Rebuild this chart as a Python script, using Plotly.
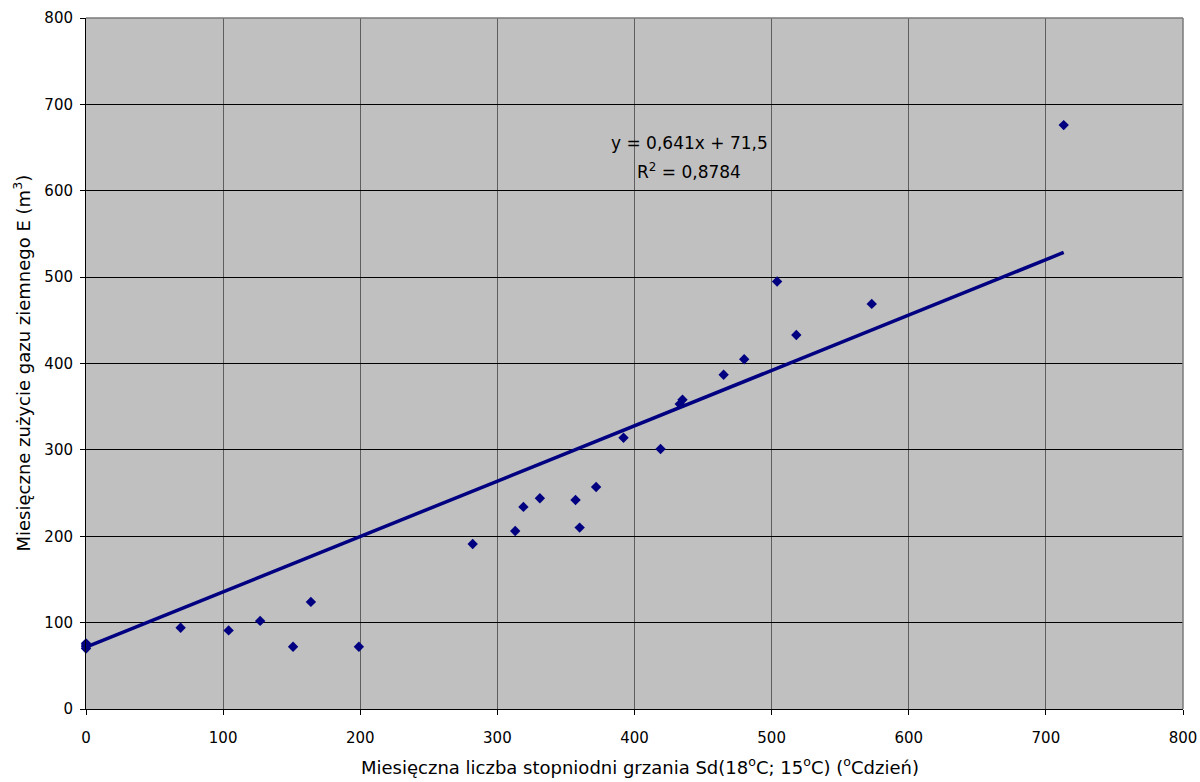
import plotly.graph_objects as go

# Monthly heating degree-days Sd(18°C; 15°C) and monthly natural gas use E (m3)
degree_days = [0, 0, 0, 0, 69, 104, 127, 151, 164, 199,
               282, 313, 319, 331, 357, 360, 372, 392, 419, 433,
               435, 465, 480, 504, 518, 573, 713]
gas_use = [70, 72, 74, 76, 94, 91, 102, 72, 124, 72,
           191, 206, 234, 244, 242, 210, 257, 314, 301, 353,
           358, 387, 405, 495, 433, 469, 676]

# Linear trend line as stated in the label
slope = 0.641
intercept = 71.5
r_squared = 0.8784

x_ticks = [0, 100, 200, 300, 400, 500, 600, 700, 800]
y_ticks = [0, 100, 200, 300, 400, 500, 600, 700, 800]

x_title = "Miesięczna liczba stopniodni grzania Sd(18<sup>o</sup>C; 15<sup>o</sup>C) (<sup>o</sup>Cdzień)"
y_title = "Miesięczne zużycie gazu ziemnego E (m<sup>3</sup>)"

navy = "#000080"
font_family = "DejaVu Sans, Arial, sans-serif"

W, H = 1200, 782
M = dict(l=86, r=17, t=18, b=73)
plot_w = W - M["l"] - M["r"]
plot_h = H - M["t"] - M["b"]

trend_x = [0, max(degree_days)]
trend_y = [slope * v + intercept for v in trend_x]

fig = go.Figure()
fig.add_trace(go.Scatter(
    x=trend_x, y=trend_y, mode="lines",
    line=dict(color=navy, width=3.5),
    hoverinfo="skip", showlegend=False,
))
fig.add_trace(go.Scatter(
    x=degree_days, y=gas_use, mode="markers",
    marker=dict(symbol="diamond", size=8, color=navy, line=dict(width=0)),
    cliponaxis=False, showlegend=False,
))

comma = lambda s: s.replace(".", ",")
eq_line = f"y = {comma(f'{slope:.3f}')}x + {comma(f'{intercept:.1f}')}"
r2_line = f"R<sup>2</sup> = {comma(f'{r_squared:.4f}')}"
for text, yv in [(eq_line, 655), (r2_line, 623)]:
    fig.add_annotation(
        x=440, y=yv, xref="x", yref="y", text=text, showarrow=False,
        font=dict(family=font_family, size=17, color="black"),
        xanchor="center", yanchor="middle",
    )

# axis titles placed in paper coordinates
fig.add_annotation(
    x=(640 - M["l"]) / plot_w, y=-(766 - (H - M["b"])) / plot_h,
    xref="paper", yref="paper", text=x_title, showarrow=False,
    font=dict(family=font_family, size=18, color="black"),
    xanchor="center", yanchor="middle",
)
fig.add_annotation(
    x=(22 - M["l"]) / plot_w, y=0.5,
    xref="paper", yref="paper", text=y_title, showarrow=False, textangle=-90,
    font=dict(family=font_family, size=18, color="black"),
    xanchor="center", yanchor="middle",
)

# grey top and right edges of the plot area
frame_grey = "#7a7a7a"
fig.add_shape(type="line", xref="x domain", yref="y domain",
              x0=0, x1=1, y0=1, y1=1, line=dict(color=frame_grey, width=1.5),
              layer="above")
fig.add_shape(type="line", xref="x domain", yref="y domain",
              x0=1, x1=1, y0=0, y1=1, line=dict(color=frame_grey, width=1.5),
              layer="above")

fig.update_layout(
    width=W, height=H, margin=M,
    paper_bgcolor="white", plot_bgcolor="#C0C0C0",
    font=dict(family=font_family, color="black"),
)
fig.update_xaxes(
    range=[0, 800], tickvals=x_ticks, ticktext=[str(v) for v in x_ticks],
    showgrid=True, gridcolor="#5e5e5e", gridwidth=1, zeroline=False,
    showline=True, linecolor="black", linewidth=1, mirror=False,
    ticks="outside", ticklen=5, tickcolor="black",
    tickfont=dict(size=15), ticklabelstandoff=10, automargin=False,
)
fig.update_yaxes(
    range=[0, 800], tickvals=y_ticks, ticktext=[str(v) for v in y_ticks],
    showgrid=True, gridcolor="black", gridwidth=1, zeroline=False,
    showline=True, linecolor="black", linewidth=1, mirror=False,
    ticks="outside", ticklen=5, tickcolor="black",
    tickfont=dict(size=15), ticklabelstandoff=4, automargin=False,
)

fig.write_html("out.html")
